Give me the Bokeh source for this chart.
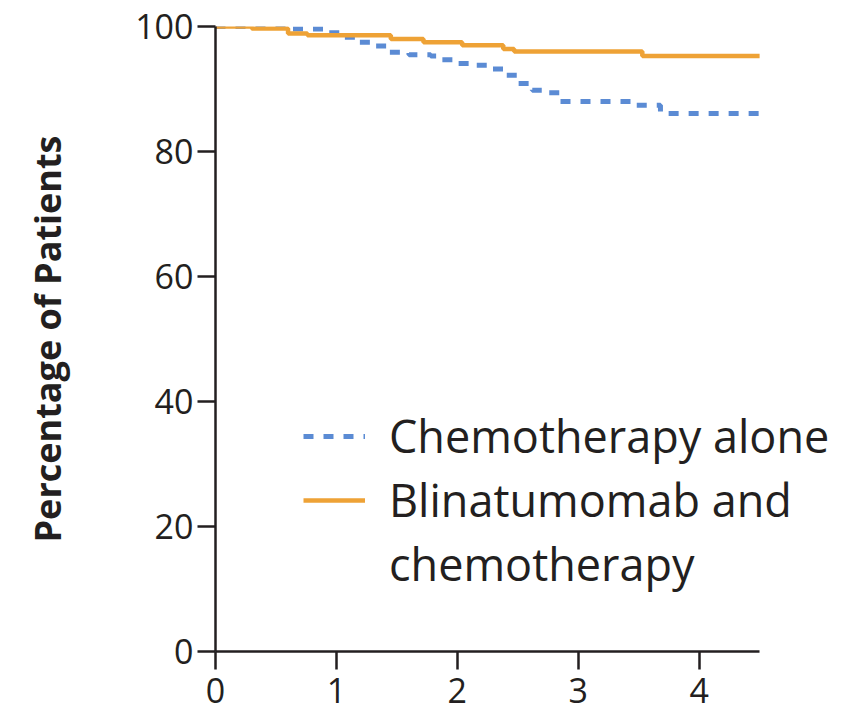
from bokeh.plotting import figure
from bokeh.models import Legend, LegendItem, FixedTicker, Range1d
from bokeh.embed import file_html
from bokeh.resources import INLINE

# Kaplan-Meier style step curves (time in years, percentage of patients)
chemo_t = [0, 0.6, 0.9, 1.05, 1.18, 1.32, 1.44, 1.6, 1.78, 1.85, 1.98, 2.15, 2.28,
           2.38, 2.5, 2.62, 2.72, 2.85, 3.47, 3.68, 4.5]
chemo_v = [100, 99.6, 99.0, 98.3, 97.5, 96.9, 95.9, 95.5, 95.3, 94.7, 94.1, 93.8, 93.2,
           92.2, 90.9, 89.8, 89.4, 88.0, 87.4, 86.1, 86.1]

blina_t = [0, 0.3, 0.6, 0.76, 1.45, 1.72, 2.04, 2.38, 2.47, 3.53, 4.5]
blina_v = [100, 99.7, 98.9, 98.6, 98.0, 97.5, 97.0, 96.4, 96.0, 95.3, 95.3]

x_ticks = [0, 1, 2, 3, 4]
y_ticks = [0, 20, 40, 60, 80, 100]
x_axis_end = 4.5

# second series name wraps onto a continuation row
series_labels = ["Chemotherapy alone", "Blinatumomab and", "chemotherapy"]

BLUE = "#5b8bd4"
ORANGE = "#eea236"
INK = "#231f20"
FONT = "Open Sans"

# frame runs a bit past the axis end so the legend has room on the right
p = figure(width=861, height=711, output_backend="svg", toolbar_location=None,
           x_range=Range1d(0, 5.26), y_range=Range1d(0, 100),
           min_border_left=215, min_border_right=10, min_border_top=26,
           min_border_bottom=60)
p.outline_line_color = None
p.xgrid.visible = False
p.ygrid.visible = False
p.background_fill_color = "white"
p.border_fill_color = "white"

r_chemo = p.step(chemo_t, chemo_v, mode="after", line_color=BLUE, line_width=5,
                 line_dash="10 10")
r_blina = p.step(blina_t, blina_v, mode="after", line_color=ORANGE, line_width=4.5)
# invisible renderer that only carries the wrapped legend row
r_wrap = p.line([], [], line_alpha=0)

for ax in (p.xaxis[0], p.yaxis[0]):
    ax.axis_line_color = INK
    ax.axis_line_width = 2.5
    ax.major_tick_line_color = INK
    ax.major_tick_line_width = 2.5
    ax.major_tick_in = 0
    ax.major_tick_out = 18
    ax.minor_tick_line_color = None
    ax.major_label_text_font = FONT
    ax.major_label_text_font_size = "34px"
    ax.major_label_text_color = INK

p.xaxis.bounds = (0, x_axis_end)
p.xaxis.ticker = FixedTicker(ticks=x_ticks)
p.yaxis.ticker = FixedTicker(ticks=y_ticks)
p.xaxis.major_label_standoff = 8
p.yaxis.major_label_standoff = 4

p.yaxis.axis_label = "Percentage of Patients"
p.yaxis.axis_label_text_font = FONT
p.yaxis.axis_label_text_font_style = "bold"
p.yaxis.axis_label_text_font_size = "36px"
p.yaxis.axis_label_text_color = INK
p.yaxis.axis_label_standoff = 60

legend = Legend(items=[LegendItem(label=series_labels[0], renderers=[r_chemo]),
                       LegendItem(label=series_labels[1], renderers=[r_blina]),
                       LegendItem(label=series_labels[2], renderers=[r_wrap])],
                location=(88, 57))
legend.border_line_color = None
legend.background_fill_alpha = 0
legend.padding = 0
legend.margin = 0
legend.spacing = 3
legend.glyph_width = 62
legend.glyph_height = 30
legend.label_standoff = 24
legend.label_text_font = FONT
legend.label_text_font_size = "45px"
legend.label_text_color = INK
legend.label_text_line_height = 1.3
p.add_layout(legend, "center")

open("out.html", "w").write(file_html(p, INLINE))
